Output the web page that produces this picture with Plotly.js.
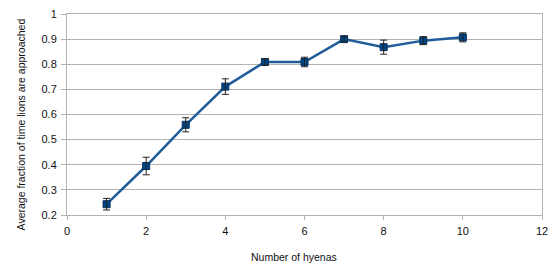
<!DOCTYPE html>
<html><head><meta charset="utf-8">
<script src="https://cdn.plot.ly/plotly-3.0.1.min.js"></script>
<style>html,body{margin:0;padding:0;background:#fff;}#chart{width:554px;height:266px;}</style>
</head><body><div id="chart"></div>
<script>
const hyenas = [1, 2, 3, 4, 5, 6, 7, 8, 9, 10];
const fractionApproached = [0.243, 0.395, 0.559, 0.711, 0.809, 0.809, 0.900, 0.868, 0.894, 0.907];
const errors = [0.023, 0.035, 0.028, 0.031, 0.013, 0.019, 0.010, 0.028, 0.016, 0.018];
const xTicks = [0, 2, 4, 6, 8, 10, 12];
const yTicks = [0.2, 0.3, 0.4, 0.5, 0.6, 0.7, 0.8, 0.9, 1];
const yTickText = ['0.2','0.3','0.4','0.5','0.6','0.7','0.8','0.9','1'];

const font = 'Liberation Sans, Arial, sans-serif';
const trace = {
  x: hyenas, y: fractionApproached, type: 'scatter', mode: 'lines+markers',
  line: {color: '#1f5c99', width: 2.5},
  marker: {symbol: 'square', size: 7, color: '#004586', line: {color: '#0a2f55', width: 1}},
  hoverinfo: 'skip'
};
const errTrace = {
  x: hyenas, y: fractionApproached, type: 'scatter', mode: 'markers',
  marker: {size: 1, opacity: 0},
  error_y: {type: 'data', array: errors, visible: true, color: '#222', thickness: 1, width: 3.5},
  hoverinfo: 'skip'
};
const layout = {
  width: 554, height: 266,
  margin: {l: 66.7, r: 11.7, t: 14.3, b: 51},
  paper_bgcolor: '#fff', plot_bgcolor: '#fff',
  showlegend: false,
  font: {family: font, size: 11, color: '#111'},
  xaxis: {range: [0, 12], tickvals: xTicks, showgrid: false, zeroline: false,
    showline: true, mirror: true, linecolor: '#b3b3b3', linewidth: 1,
    ticks: 'outside', ticklen: 4, tickcolor: '#b3b3b3', ticklabelstandoff: 2,
    tickfont: {family: font, size: 11, color: '#111'}},
  yaxis: {range: [0.2, 1], tickvals: yTicks, ticktext: yTickText, showgrid: true, gridcolor: '#b3b3b3',
    zeroline: false, showline: true, mirror: true, linecolor: '#b3b3b3', linewidth: 1,
    ticks: 'outside', ticklen: 5, tickcolor: '#b3b3b3', ticklabelstandoff: 2,
    tickfont: {family: font, size: 11, color: '#111'}},
  annotations: [
    {text: 'Average fraction of time lions are approached', xref: 'paper', yref: 'paper',
     x: -0.098, y: 0.453, textangle: -90, showarrow: false, xanchor: 'center', yanchor: 'middle',
     font: {family: font, size: 10.5, color: '#111'}},
    {text: 'Number of hyenas', xref: 'paper', yref: 'paper',
     x: (293.5 - 66.7) / 475.6, y: -(257 - 215) / 200.7, showarrow: false, xanchor: 'center', yanchor: 'middle',
     font: {family: font, size: 10.5, color: '#111'}}
  ]
};
Plotly.newPlot('chart', [trace, errTrace], layout, {staticPlot: true, displayModeBar: false});
</script></body></html>
